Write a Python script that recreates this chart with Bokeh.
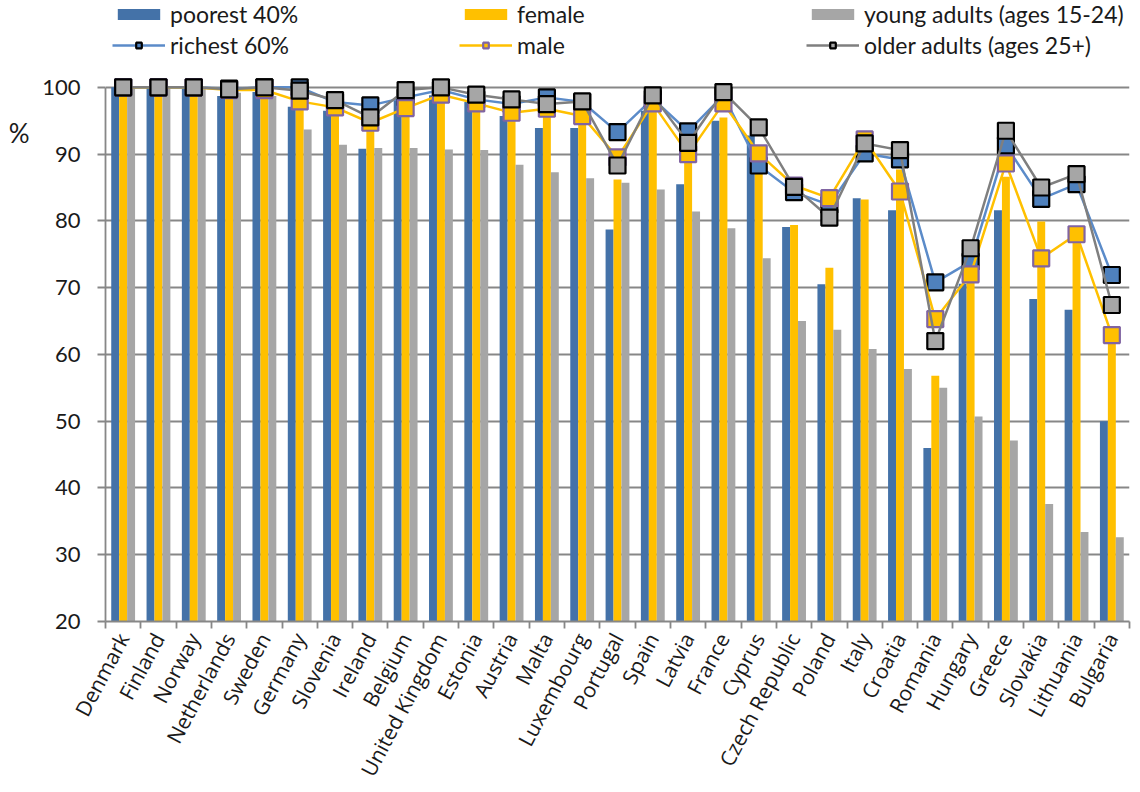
import math
from bokeh.plotting import figure
from bokeh.models import (ColumnDataSource, FixedTicker, Range1d, Legend, LegendItem, LinearAxis)
from bokeh.transform import dodge
from bokeh.embed import file_html
from bokeh.resources import INLINE

countries = ["Denmark", "Finland", "Norway", "Netherlands", "Sweden", "Germany", "Slovenia",
             "Ireland", "Belgium", "United Kingdom", "Estonia", "Austria", "Malta", "Luxembourg",
             "Portugal", "Spain", "Latvia", "France", "Cyprus", "Czech Republic", "Poland",
             "Italy", "Croatia", "Romania", "Hungary", "Greece", "Slovakia", "Lithuania", "Bulgaria"]

poorest = [100, 100, 100, 98.7, 99.3, 97.1, 96.5, 90.8, 98.3, 98.8, 97.8, 95.7, 93.9, 93.9,
           78.7, 96.5, 85.5, 95.0, 92.8, 79.1, 70.5, 83.4, 81.6, 46.0, 70.6, 81.6, 68.3, 66.7, 50.0]
female = [100, 100, 100, 99.5, 99.5, 98.0, 97.4, 94.1, 97.0, 99.0, 97.5, 96.0, 95.7, 95.5,
          86.2, 98.0, 90.0, 95.5, 89.3, 79.4, 73.0, 83.2, 87.7, 56.8, 72.0, 86.6, 79.9, 78.3, 62.8]
young = [100, 100, 100, 99.2, 98.7, 93.7, 91.4, 90.9, 90.9, 90.7, 90.6, 88.4, 87.3, 86.4,
         85.7, 84.7, 81.4, 78.9, 74.4, 65.0, 63.7, 60.8, 57.8, 55.0, 50.7, 47.1, 37.6, 33.4, 32.6]
richest = [100, 100, 100, 99.8, 100, 100, 97.8, 97.3, 98.5, 99.6, 98.2, 97.5, 98.5, 97.8,
           93.3, 98.3, 93.4, 98.8, 88.3, 84.3, 82.4, 90.1, 89.2, 70.8, 73.9, 91.3, 83.3, 85.5, 71.9]
male = [100, 100, 100, 99.6, 99.6, 97.9, 97.0, 94.7, 96.9, 98.9, 97.6, 96.2, 96.8, 95.7,
        89.5, 97.6, 90.0, 97.6, 90.1, 85.3, 83.4, 92.2, 84.4, 65.3, 72.0, 88.6, 74.4, 78.0, 62.9]
older = [100, 100, 100, 99.7, 100, 99.5, 98.1, 95.5, 99.6, 100, 98.9, 98.2, 97.5, 97.9,
         88.3, 98.8, 91.7, 99.3, 94.0, 85.1, 80.5, 91.6, 90.6, 62.0, 75.9, 93.5, 85.0, 87.0, 67.4]

y_ticks = [20, 30, 40, 50, 60, 70, 80, 90, 100]
unit_label = "%"
unit_label_at = 93.1

BLUE = "#4472A8"
YELLOW = "#FFC000"
GRAY = "#A6A6A6"
LBLUE = "#5B8BC9"
DGRAY = "#7F7F7F"
PURPLE = "#8064A2"
AXIS = "#878787"
FONT = "Lato"
XFONT = "Open Sans"

# layout (pixels)
W, H = 1138, 790
FRAME_LEFT, FRAME_RIGHT, AXIS_TOP, FRAME_BOTTOM = 105, 1129, 87, 622
ymin, ymax = y_ticks[0], y_ticks[-1]
px_per_unit = (FRAME_BOTTOM - AXIS_TOP) / (ymax - ymin)
y_end = ymax + AXIS_TOP / px_per_unit   # headroom above 100 holds the legend

idx = list(range(len(countries)))
src = ColumnDataSource(dict(x=idx, poorest=poorest, female=female, young=young,
                            richest=richest, male=male, older=older))

p = figure(width=W, height=H, output_backend="svg", toolbar_location=None,
           x_range=Range1d(-0.5, len(countries) - 0.5), y_range=Range1d(ymin, y_end),
           min_border_left=FRAME_LEFT, min_border_right=W - FRAME_RIGHT, min_border_top=0,
           min_border_bottom=H - FRAME_BOTTOM)
p.outline_line_color = None
p.background_fill_color = "white"
p.xgrid.visible = False
p.ygrid.grid_line_color = AXIS
p.ygrid.grid_line_width = 1.8

bw = 0.225
r_poor = p.vbar(x=dodge("x", -bw), top="poorest", bottom=0, width=bw, source=src,
                fill_color=BLUE, line_color=None)
r_fem = p.vbar(x="x", top="female", bottom=0, width=bw, source=src,
               fill_color=YELLOW, line_color=None)
r_young = p.vbar(x=dodge("x", bw), top="young", bottom=0, width=bw, source=src,
                 fill_color=GRAY, line_color=None)

r_rich_l = p.line("x", "richest", source=src, line_color=LBLUE, line_width=2.5)
r_rich_m = p.scatter("x", "richest", source=src, marker="square", size=16,
                     fill_color="#4F81BD", line_color="black", line_width=2.2)
r_male_l = p.line("x", "male", source=src, line_color=YELLOW, line_width=2.5)
r_male_m = p.scatter("x", "male", source=src, marker="square", size=16,
                     fill_color=YELLOW, line_color=PURPLE, line_width=2.2)
r_old_l = p.line("x", "older", source=src, line_color=DGRAY, line_width=2.5)
r_old_m = p.scatter("x", "older", source=src, marker="square", size=16,
                    fill_color=GRAY, line_color="black", line_width=2.2)

# x axis
xa = p.xaxis[0]
xa.ticker = FixedTicker(ticks=idx, minor_ticks=[i + 0.5 for i in range(-1, len(countries))])
xa.major_label_overrides = {i: c for i, c in zip(idx, countries)}
xa.major_tick_line_color = None
xa.minor_tick_line_color = AXIS
xa.minor_tick_line_width = 1.8
xa.minor_tick_out = 7
xa.minor_tick_in = 0
xa.axis_line_color = AXIS
xa.axis_line_width = 1.8
xa.major_label_orientation = math.radians(62)
xa.major_label_text_font = XFONT
xa.major_label_text_font_size = "21px"
xa.major_label_text_color = "#1a1a1a"
xa.major_label_standoff = 6

ya = p.yaxis[0]
ya.ticker = FixedTicker(ticks=y_ticks)
ya.bounds = (ymin, ymax)
ya.minor_tick_line_color = None
ya.major_tick_line_color = AXIS
ya.major_tick_line_width = 1.8
ya.major_tick_out = 8
ya.major_tick_in = 0
ya.axis_line_color = AXIS
ya.axis_line_width = 1.8
ya.major_label_text_font = FONT
ya.major_label_text_font_size = "22px"
ya.major_label_text_color = "#1a1a1a"
ya.major_label_standoff = 17

# "%" unit label as an outer axis with a single labelled tick
ua = LinearAxis(ticker=FixedTicker(ticks=[unit_label_at]),
                major_label_overrides={unit_label_at: unit_label})
ua.axis_line_color = None
ua.major_tick_line_color = None
ua.minor_tick_line_color = None
ua.major_label_standoff = 4
ua.major_label_text_font = FONT
ua.major_label_text_font_size = "26px"
ua.major_label_text_color = "#1a1a1a"
p.add_layout(ua, "left")

LEG_ROW_H, LEG_TOP, LEG_LEFT = 31, -1, 7
leg_h = 2 * LEG_ROW_H
legend = Legend(items=[
    LegendItem(label="poorest 40%", renderers=[r_poor]),
    LegendItem(label="female", renderers=[r_fem]),
    LegendItem(label="young adults (ages 15-24)", renderers=[r_young]),
    LegendItem(label="richest 60%", renderers=[r_rich_l, r_rich_m]),
    LegendItem(label="male", renderers=[r_male_l, r_male_m]),
    LegendItem(label="older adults (ages 25+)", renderers=[r_old_l, r_old_m]),
], location=(LEG_LEFT, FRAME_BOTTOM - LEG_TOP - leg_h), orientation="horizontal", ncols=3,
    glyph_width=53, glyph_height=14, label_height=LEG_ROW_H, label_width=289,
    label_standoff=5, spacing=0, padding=0, margin=0,
    label_text_font=FONT, label_text_font_size="23px", label_text_color="#1a1a1a",
    border_line_color=None, background_fill_alpha=0)
p.add_layout(legend, "center")

open("out.html", "w").write(file_html(p, INLINE))
